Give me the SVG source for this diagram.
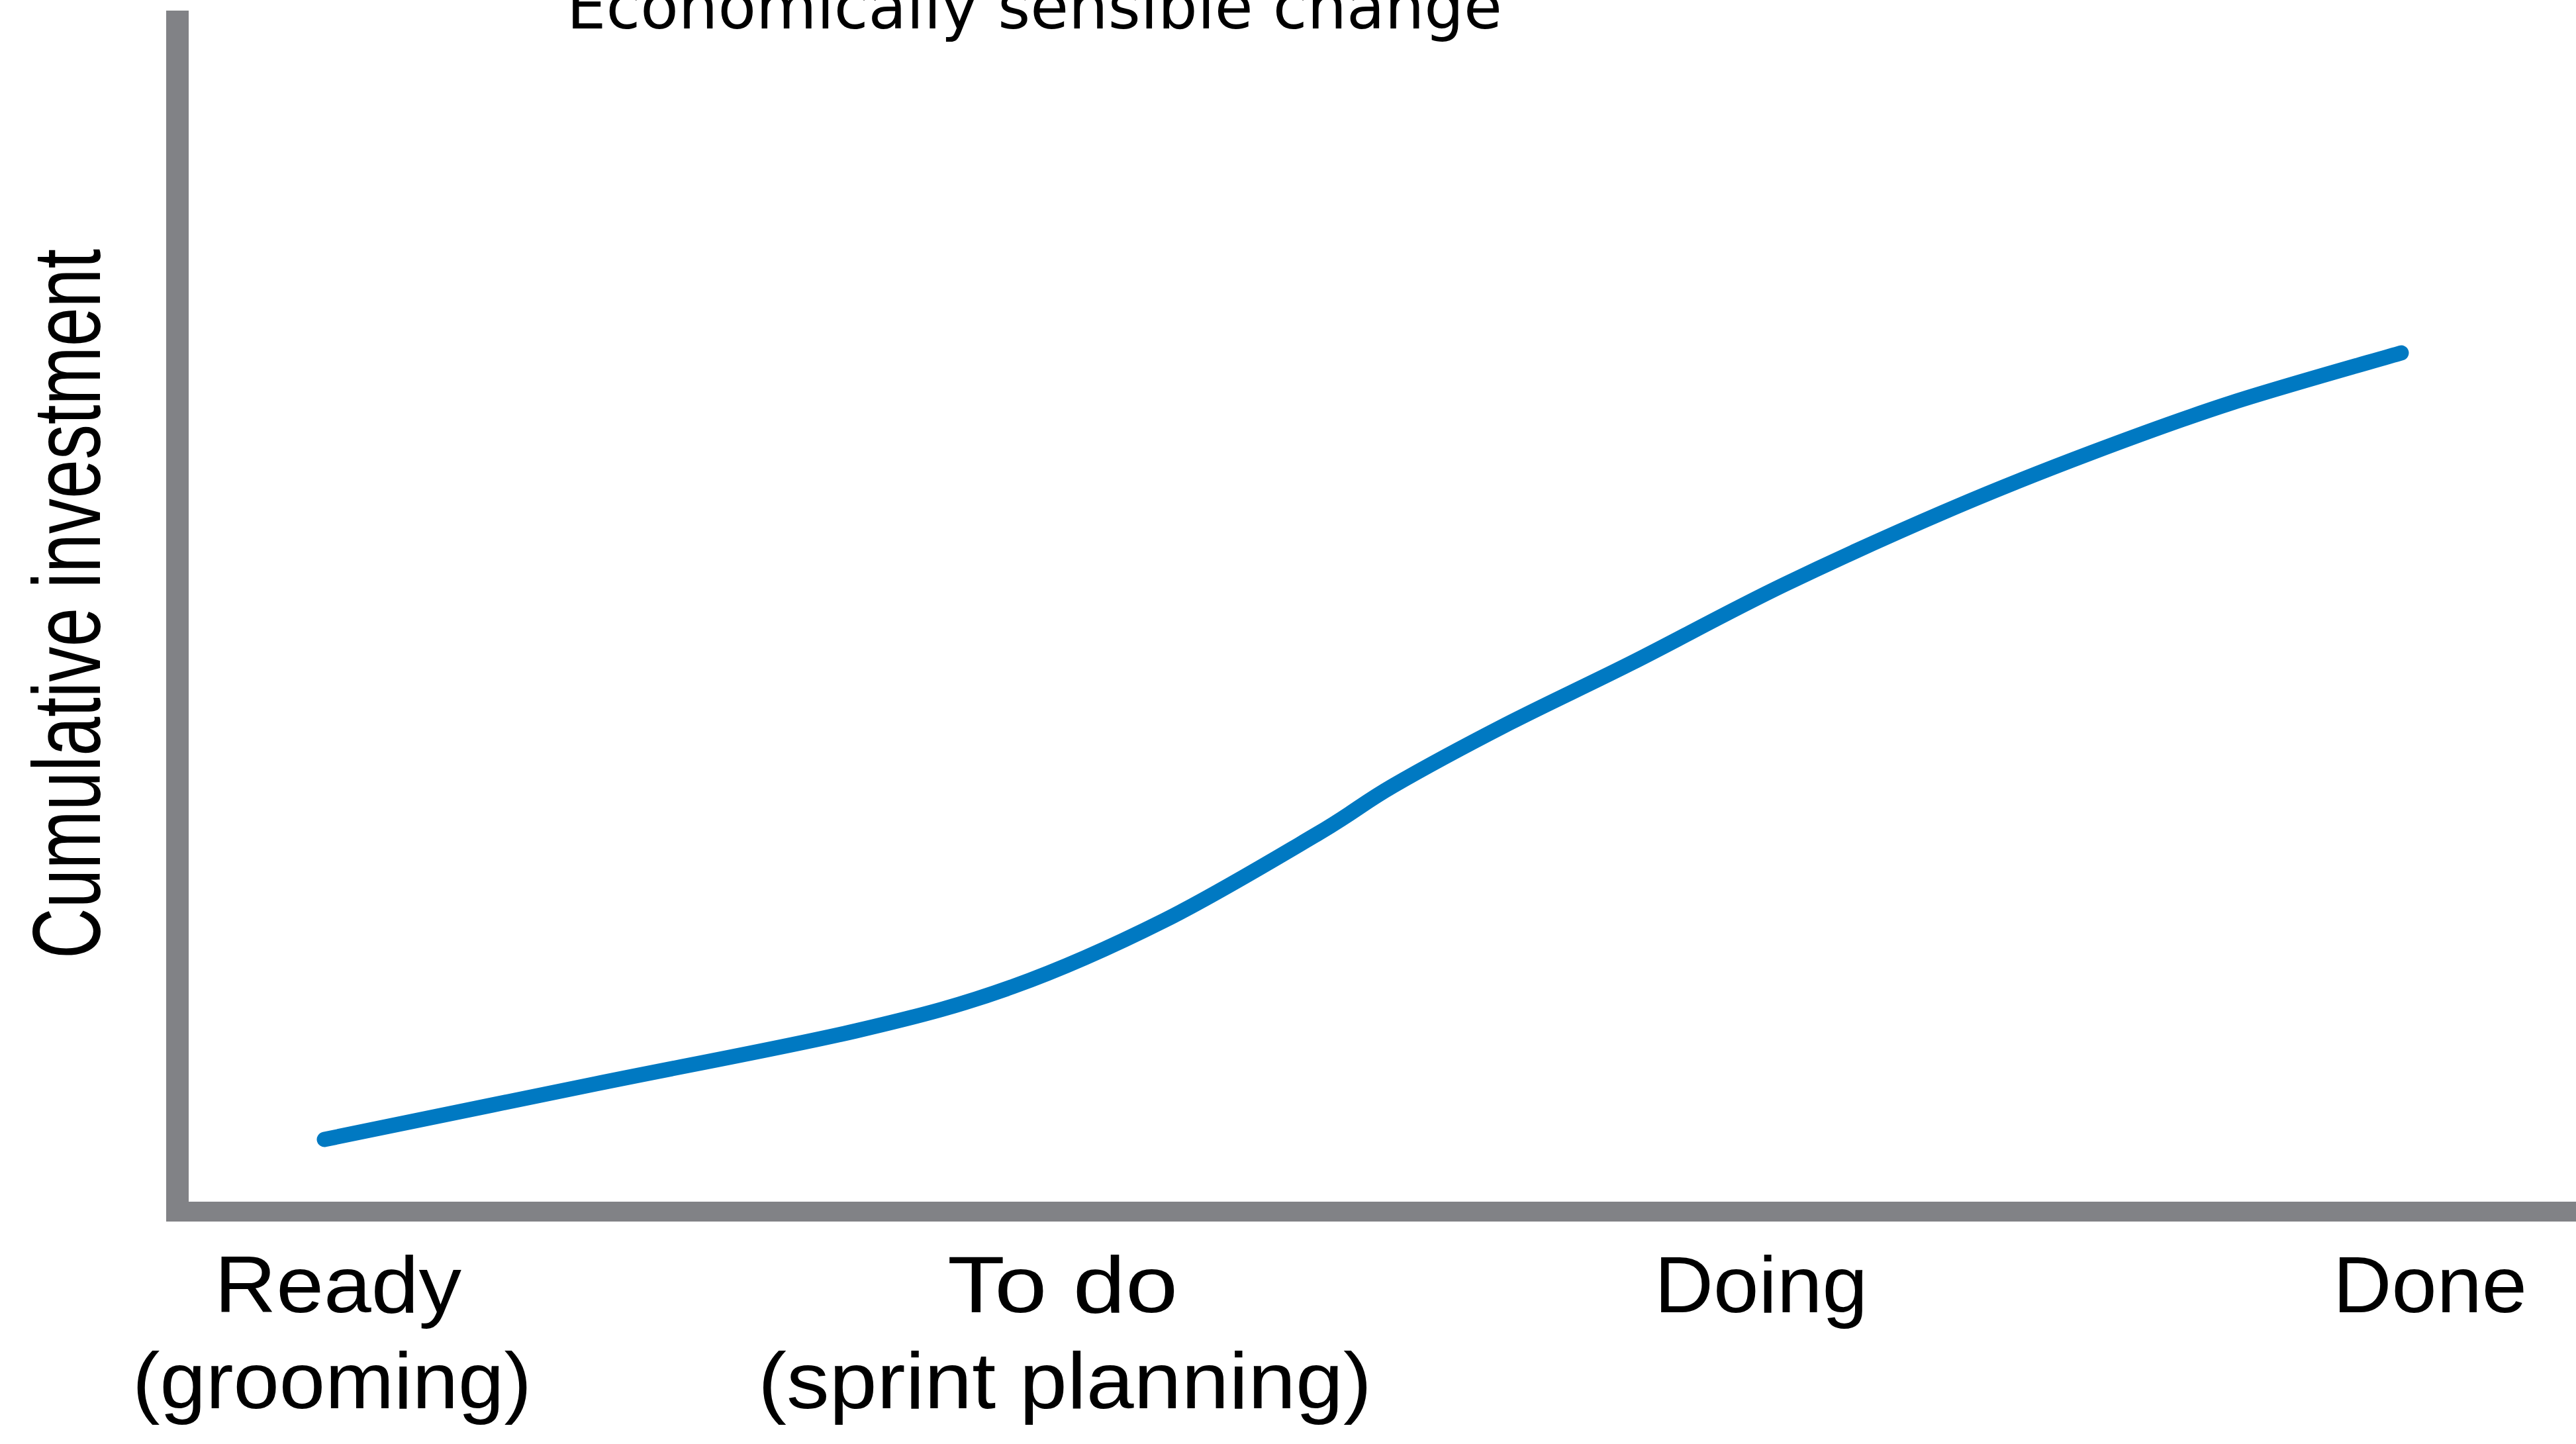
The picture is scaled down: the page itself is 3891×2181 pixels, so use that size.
<svg xmlns="http://www.w3.org/2000/svg" width="3891" height="2181" viewBox="0 0 3891 2181">
  <style>
    .axis { fill: #818286; }
    .curve { fill: none; stroke: #0079C2; stroke-width: 23; stroke-linecap: round; stroke-linejoin: round; }
    .title { font-family: "DejaVu Sans", Verdana, sans-serif; font-size: 94px; fill: #000000; }
    .hand { font-family: "Liberation Sans", Arial, sans-serif; font-size: 120px; fill: #000000; }
    .yl { font-family: "Liberation Sans", Arial, sans-serif; font-size: 145px; fill: #000000; }
  </style>
  <rect width="3891" height="2181" fill="#ffffff"/>
  <g id="title">
    <text class="title" x="856" y="43" textLength="1413" lengthAdjust="spacingAndGlyphs">Economically sensible change</text>
  </g>
  <g id="axes">
    <rect class="axis" x="251" y="16" width="34" height="1829"/>
    <rect class="axis" x="251" y="1815" width="3640" height="30"/>
  </g>
  <g id="y-label">
    <text class="yl" transform="translate(151,912) rotate(-90)" x="0" y="0" text-anchor="middle" textLength="1072" lengthAdjust="spacingAndGlyphs">Cumulative investment</text>
  </g>
  <g id="connectors">
    <path id="investment-curve" class="curve" d="M490,1721 C558.3,1707 766.2,1664.3 900,1637 C1033.8,1609.7 1188,1581.5 1293,1557 C1398,1532.5 1452.3,1517.8 1530,1490 C1607.7,1462.2 1682.5,1428.3 1759,1390 C1835.5,1351.7 1931.5,1293.8 1989,1260 C2046.5,1226.2 2056.5,1214.5 2104,1187 C2151.5,1159.5 2213.8,1126 2274,1095 C2334.2,1064 2394.8,1036.3 2465,1001 C2535.2,965.7 2614,922 2695,883 C2776,844 2873.3,800.3 2951,767 C3028.7,733.7 3090.8,709.5 3161,683 C3231.2,656.5 3294.3,633 3372,608 C3449.7,583 3584.5,545.5 3627,533"/>
  </g>
  <g id="node-ready">
    <text class="hand" x="324" y="1982" textLength="373" lengthAdjust="spacingAndGlyphs">Ready</text>
    <text class="hand" x="200" y="2127" textLength="603" lengthAdjust="spacingAndGlyphs">(grooming)</text>
  </g>
  <g id="node-todo">
    <text class="hand" x="1431" y="1982" textLength="348" lengthAdjust="spacingAndGlyphs">To do</text>
    <text class="hand" x="1145" y="2127" textLength="927" lengthAdjust="spacingAndGlyphs">(sprint planning)</text>
  </g>
  <g id="node-doing">
    <text class="hand" x="2499" y="1982" textLength="322" lengthAdjust="spacingAndGlyphs">Doing</text>
  </g>
  <g id="node-done">
    <text class="hand" x="3524" y="1982" textLength="293" lengthAdjust="spacingAndGlyphs">Done</text>
  </g>
</svg>
